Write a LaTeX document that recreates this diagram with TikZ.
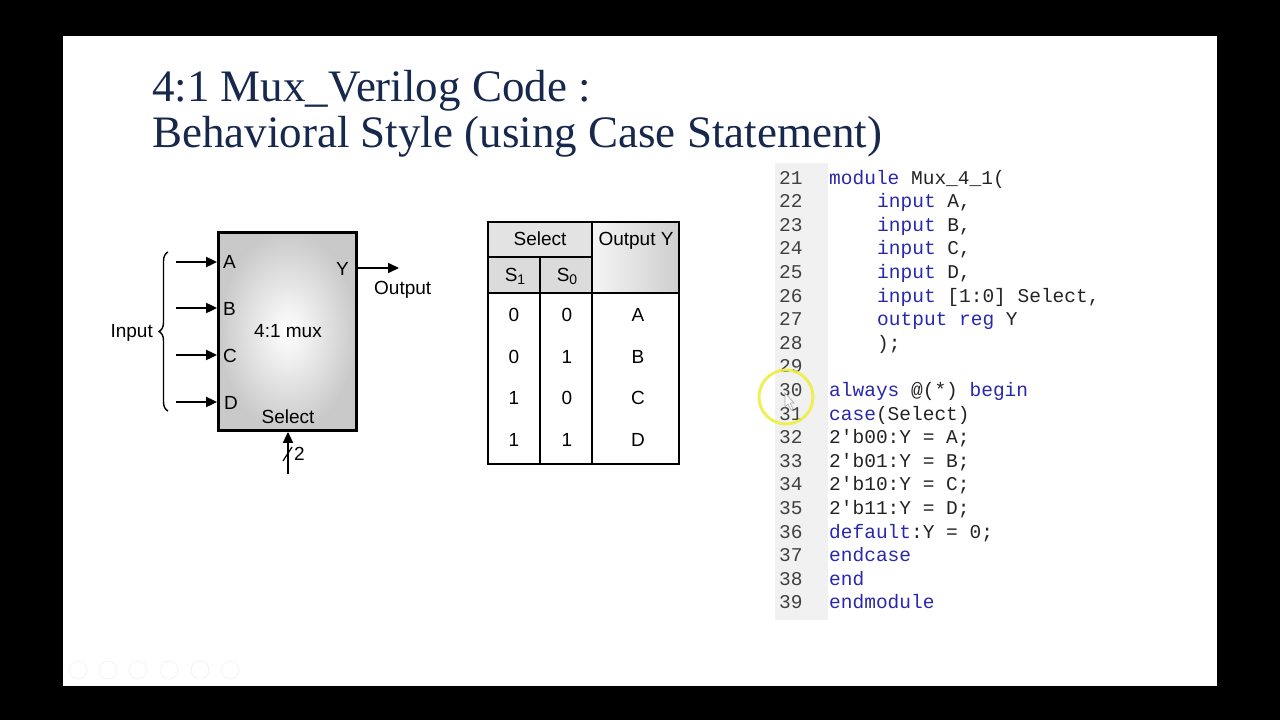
\documentclass[tikz,border=0pt]{standalone}
\usepackage{fontspec}
\setmainfont{Liberation Serif}
\newfontfamily\arialfont{Liberation Sans}
\newfontfamily\codefont{Liberation Mono}
\usetikzlibrary{arrows.meta,decorations.pathreplacing}
\definecolor{titleblue}{RGB}{23,40,77}
\definecolor{kwblue}{RGB}{40,40,175}
\definecolor{codetxt}{RGB}{35,35,35}
\definecolor{gutter}{RGB}{241,241,241}
\definecolor{hilite}{RGB}{238,238,70}
\newcommand\kw[1]{\textcolor{kwblue}{#1}}
\tikzset{
  lab/.style={font=\arialfont\fontsize{19}{22}\selectfont, inner sep=0pt, text=black},
  arr/.style={line width=1.9pt, -{Triangle[length=11pt,width=10pt]}},
  titletext/.style={font=\fontsize{45}{50}\selectfont, text=titleblue, inner sep=0pt, anchor=base west},
  code/.style={font=\codefont\fontsize{19.5}{22}\selectfont, text=codetxt, inner sep=0pt, anchor=base west},
  num/.style={font=\codefont\fontsize{19.5}{22}\selectfont, text=black!75, inner sep=0pt, anchor=base west},
  tline/.style={line width=2pt},
}
\begin{document}
\begin{tikzpicture}[x=1pt,y=-1pt]
\fill[black] (0,0) rectangle (1280,720);
\fill[white] (63,36) rectangle (1217,686);
\useasboundingbox (0,0) rectangle (1280,720);

% Title
\node[titletext] (t1) at (152,101) {4:1 Mux\_Verilog Code :};
\node[titletext] (t2) at (152,147) {Behavioral Style (using Case Statement)};

% ---------- MUX block ----------
\node[draw, line width=2.8pt, shading=radial, inner color=white, outer color=gray!42,
      minimum width=138pt, minimum height=198pt, inner sep=0pt] (mux) at (287.5,331.5) {};
\node[lab] (muxlabel) at (288,331) {4:1 mux};
\node[lab, anchor=base] (sel) at (288,423) {Select};
\node[lab, anchor=base west] (la) at (223,268) {A};
\node[lab, anchor=base west] (lb) at (223,315) {B};
\node[lab, anchor=base west] (lc) at (223,362) {C};
\node[lab, anchor=base west] (ld) at (224,409) {D};
\node[lab, anchor=base east] (ly) at (349,275) {Y};

\coordinate (ia) at (176,262);
\coordinate (ib) at (176,308);
\coordinate (ic) at (176,355);
\coordinate (id) at (176,402);
\foreach \c in {ia,ib,ic,id} \draw[arr] (\c) -- (\c -| mux.west);

\coordinate (oy) at (399,268);
\draw[arr] (oy -| mux.east) -- (oy);
\node[lab, anchor=base west] (out) at (374,294) {Output};

\coordinate (sin) at (288,474);
\draw[arr] (sin) -- (sin |- mux.south);
\coordinate (sl1) at (283,461);
\coordinate (sl2) at (292,447);
\draw[line width=1.2pt] (sl1) -- (sl2);
\node[lab, anchor=base west] (two) at (294,460) {2};

\coordinate (br1) at (168,411);
\coordinate (br2) at (168,252);
\draw[line width=1.4pt, decorate, decoration={brace, amplitude=9pt}] (br1) -- (br2);
\node[lab, anchor=base east] (inp) at (153,337) {Input};

% ---------- Truth table ----------
\fill[gray!22] (488,222) rectangle (592,257);
\fill[gray!28] (488,257) rectangle (592,293);
\shade[left color=gray!8, right color=gray!38] (592,222) rectangle (679,293);
\draw[tline] (488,257) -- (592,257);
\draw[tline] (540,257) -- (540,464);
\draw[tline] (592,222) -- (592,464);
\draw[line width=2.4pt] (488,293) -- (679,293);
\draw[line width=2.6pt] (488,222) rectangle (679,464);

\node[lab, anchor=base] (hsel) at (540,245) {Select};
\node[lab, anchor=base] (hout) at (636,245) {Output Y};
\node[lab, anchor=base] (hs1) at (515,281) {S\raisebox{-0.3ex}{\fontsize{14}{16}\selectfont 1}};
\node[lab, anchor=base] (hs0) at (567,281) {S\raisebox{-0.3ex}{\fontsize{14}{16}\selectfont 0}};

\foreach \a/\b/\o/\yy [count=\i] in {0/0/A/315,0/1/B/357,1/0/C/398,1/1/D/440}{
  \node[lab] (r\i a) at (514,\yy) {\a};
  \node[lab] (r\i b) at (567,\yy) {\b};
  \node[lab] (r\i o) at (638,\yy) {\o};
}

% ---------- Code ----------
\fill[gutter] (775,163) rectangle (828,620);
\foreach \n [evaluate=\n as \yy using 184+(\n-21)*23.6] in {21,...,39}
  \node[num] (n\n) at (779,\yy) {\n};

\node[code] (c21) at (829,184.0) {\kw{module} Mux\_4\_1(};
\node[code] (c22) at (877,207.6) {\kw{input} A,};
\node[code] (c23) at (877,231.2) {\kw{input} B,};
\node[code] (c24) at (877,254.8) {\kw{input} C,};
\node[code] (c25) at (877,278.4) {\kw{input} D,};
\node[code] (c26) at (877,302.0) {\kw{input} [1:0] Select,};
\node[code] (c27) at (877,325.6) {\kw{output reg} Y};
\node[code] (c28) at (877,349.2) {);};
\node[code] (c30) at (829,396.4) {\kw{always} @(*) \kw{begin}};
\node[code] (c31) at (829,420.0) {\kw{case}(Select)};
\node[code] (c32) at (829,443.6) {2'b00:Y = A;};
\node[code] (c33) at (829,467.2) {2'b01:Y = B;};
\node[code] (c34) at (829,490.8) {2'b10:Y = C;};
\node[code] (c35) at (829,514.4) {2'b11:Y = D;};
\node[code] (c36) at (829,538.0) {\kw{default}:Y = 0;};
\node[code] (c37) at (829,561.6) {\kw{endcase}};
\node[code] (c38) at (829,585.2) {\kw{end}};
\node[code] (c39) at (829,608.8) {\kw{endmodule}};

% highlight ring and cursor
\draw[hilite, line width=3pt, opacity=0.9] (786,397) circle[radius=27];
\filldraw[fill=white, draw=gray!70, line width=0.6pt]
  (785,393) -- (785,407) -- (788,404) -- (791,410) -- (793,409) -- (790,403) -- (794,403) -- cycle;

% faint navigation icons
\foreach \xx in {78,108,138,169,200,230}
  \draw[gray!9, line width=0.8pt] (\xx,670) circle[radius=9];
\end{tikzpicture}
\end{document}
